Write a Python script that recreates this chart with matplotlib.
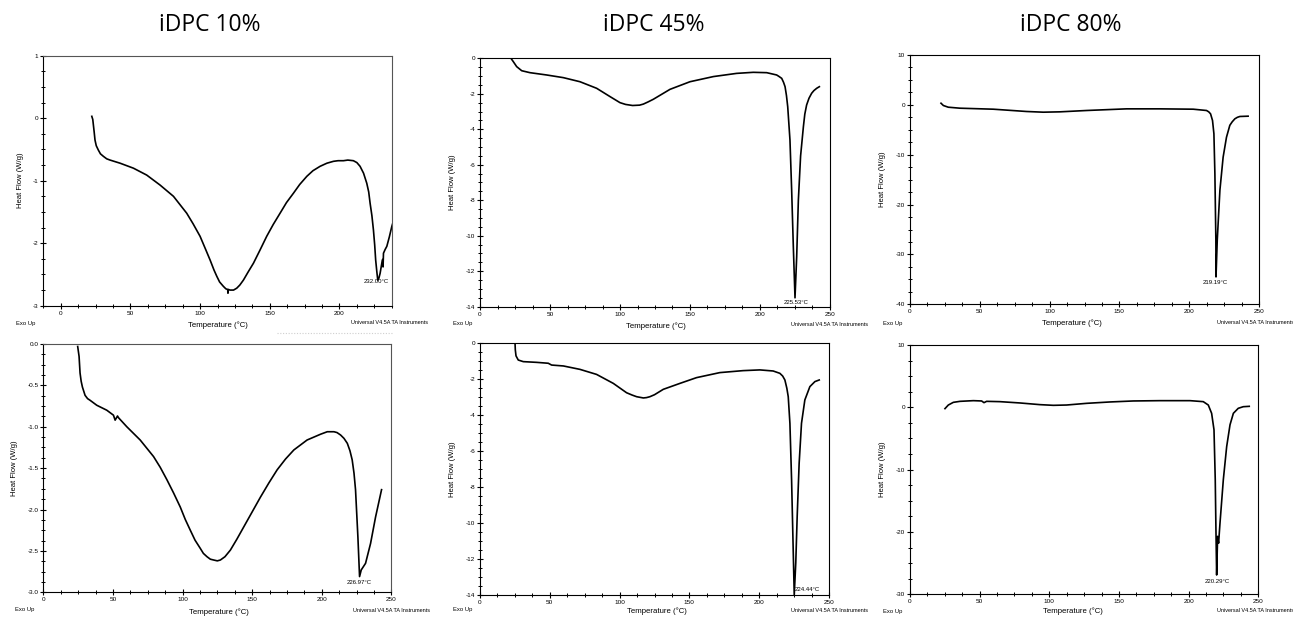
import numpy as np
import matplotlib
matplotlib.use("Agg")
import matplotlib.pyplot as plt
from matplotlib.ticker import MultipleLocator, AutoMinorLocator, FormatStrFormatter
from matplotlib.lines import Line2D

plt.rcParams['font.family'] = ['Liberation Sans', 'DejaVu Sans']
plt.rcParams['axes.unicode_minus'] = False

W, H = 1293, 617

# --- iDPC 10%, run 1 (top left)
t10_a = [22.3, 23.0, 24.0, 24.6, 25.5, 27.0, 28.5, 30.6, 33.0, 35.4,
         42.6, 52.2, 61.7, 71.3, 80.9, 90.4, 95.0, 100.0, 104.0, 107.2,
         110.0, 112.0, 114.0, 116.7, 118.5, 119.8, 120.0, 120.3, 121.5, 124.0,
         126.3, 128.5, 131.1, 134.5, 138.3, 143.0, 147.8, 152.5, 157.4, 162.0,
         167.0, 171.5, 176.6, 181.0, 186.1, 191.0, 195.7, 199.0, 202.9, 206.0,
         210.0, 212.5, 214.8, 217.3, 219.6, 221.0, 222.0, 223.3, 224.4, 225.3,
         226.0, 226.8, 227.5, 228.3, 229.2, 230.4, 231.0, 231.3, 231.6, 232.8,
         234.0, 235.8, 237.6, 240.0]
hf10_a = [0.03, -0.02, -0.22, -0.35, -0.44, -0.51, -0.57, -0.61, -0.65, -0.67,
          -0.72, -0.80, -0.91, -1.07, -1.25, -1.52, -1.69, -1.89, -2.10, -2.27,
          -2.43, -2.53, -2.62, -2.69, -2.73, -2.74, -2.80, -2.74, -2.75, -2.75,
          -2.72, -2.67, -2.59, -2.46, -2.32, -2.11, -1.89, -1.70, -1.52, -1.35,
          -1.20, -1.06, -0.93, -0.84, -0.77, -0.72, -0.69, -0.68, -0.68, -0.67,
          -0.68, -0.71, -0.77, -0.88, -1.04, -1.18, -1.36, -1.56, -1.79, -2.03,
          -2.27, -2.45, -2.59, -2.56, -2.48, -2.32, -2.26, -2.38, -2.16, -2.10,
          -2.05, -1.90, -1.73, -1.55]

# --- iDPC 45%, run 1 (top middle)
t45_a = [22.1, 23.8, 26.2, 29.8, 35.7, 47.6, 59.5, 71.4, 83.3, 92.9,
         100.0, 104.0, 109.0, 114.0, 116.7, 120.0, 123.8, 135.7, 150.0, 166.7,
         183.3, 195.2, 204.8, 211.9, 213.5, 215.5, 216.8, 217.9, 218.9, 219.8,
         221.4, 222.6, 223.8, 225.0, 226.2, 227.4, 229.0, 231.0, 232.0, 233.3,
         235.0, 236.9, 238.5, 240.5, 242.4]
hf45_a = [0.0, -0.19, -0.47, -0.70, -0.81, -0.94, -1.09, -1.32, -1.69, -2.16,
          -2.50, -2.60, -2.66, -2.64, -2.58, -2.46, -2.31, -1.75, -1.32, -1.03,
          -0.85, -0.79, -0.81, -0.94, -1.02, -1.13, -1.35, -1.60, -2.10, -2.73,
          -4.60, -7.40, -10.6, -13.5, -11.2, -8.0, -5.5, -3.85, -3.15, -2.63,
          -2.25, -1.97, -1.82, -1.69, -1.60]

# --- iDPC 80%, run 1 (top right)
t80_a = [22.2, 23.9, 27.4, 35.8, 59.7, 83.5, 95.5, 107.4, 126.5, 155.1,
         179.0, 202.9, 212.4, 214.0, 215.3, 216.7, 217.7, 218.4, 219.1, 219.2,
         220.1, 222.0, 224.3, 226.7, 228.0, 229.1, 230.8, 232.7, 234.5, 236.3,
         242.2]
hf80_a = [0.33, -0.13, -0.47, -0.67, -0.87, -1.33, -1.47, -1.40, -1.13, -0.80,
          -0.80, -0.87, -1.13, -1.40, -1.80, -3.13, -5.8, -13.8, -27.1, -34.5,
          -27.1, -17.1, -10.5, -6.5, -5.2, -4.1, -3.4, -2.8, -2.5, -2.33,
          -2.27]

# --- iDPC 10%, run 2 (bottom left)
t10_b = [24.7, 25.7, 26.4, 27.2, 28.1, 30.0, 31.8, 33.6, 38.4, 45.6,
         50.4, 51.6, 53.3, 54.0, 60.0, 69.6, 79.2, 84.0, 88.8, 93.6,
         98.4, 102.0, 105.6, 109.0, 112.8, 115.0, 117.6, 120.0, 122.4, 125.0,
         127.2, 130.5, 134.4, 139.0, 144.0, 150.0, 156.0, 162.0, 168.0, 174.0,
         180.0, 189.5, 199.2, 204.0, 208.8, 211.0, 213.6, 216.0, 218.4, 220.3,
         221.9, 223.2, 224.3, 226.0, 227.2, 228.4, 231.5, 235.1, 238.7, 243.0]
hf10_b = [-0.03, -0.15, -0.35, -0.45, -0.52, -0.62, -0.66, -0.68, -0.74, -0.80,
          -0.86, -0.92, -0.87, -0.89, -1.00, -1.16, -1.36, -1.49, -1.64, -1.80,
          -1.97, -2.12, -2.25, -2.37, -2.47, -2.53, -2.57, -2.60, -2.61, -2.62,
          -2.61, -2.57, -2.49, -2.36, -2.21, -2.03, -1.85, -1.68, -1.52, -1.39,
          -1.28, -1.16, -1.09, -1.06, -1.06, -1.07, -1.10, -1.14, -1.20, -1.29,
          -1.40, -1.56, -1.76, -2.33, -2.81, -2.73, -2.65, -2.41, -2.09, -1.76]

# --- iDPC 45%, run 2 (bottom middle)
t45_b = [25.1, 25.3, 25.8, 27.4, 31.0, 40.6, 48.9, 51.3, 59.7, 71.6,
         83.5, 95.5, 105.0, 109.0, 112.2, 117.0, 119.3, 121.7, 125.0, 131.3,
         143.2, 155.1, 171.8, 188.5, 200.5, 210.0, 214.8, 216.8, 218.4, 219.8,
         220.8, 222.0, 223.2, 224.3, 225.1, 226.2, 227.2, 228.6, 230.3, 232.7,
         236.3, 239.9, 243.0]
hf45_b = [0.0, -0.37, -0.70, -0.93, -1.02, -1.06, -1.11, -1.21, -1.26, -1.45,
          -1.73, -2.23, -2.75, -2.88, -2.97, -3.04, -3.02, -2.97, -2.86, -2.56,
          -2.23, -1.91, -1.63, -1.52, -1.48, -1.54, -1.67, -1.82, -2.04, -2.50,
          -2.97, -4.45, -7.6, -11.3, -14.0, -12.2, -9.65, -6.7, -4.45, -3.15,
          -2.41, -2.13, -2.04]

# --- iDPC 80%, run 2 (bottom right)
t80_b = [25.1, 27.5, 31.1, 35.9, 45.5, 51.4, 53.1, 55.0, 64.6, 78.9,
         93.3, 102.9, 112.4, 126.8, 143.5, 160.3, 179.4, 201.0, 210.5, 214.1,
         216.5, 218.2, 219.1, 219.6, 220.1, 220.8, 221.5, 222.5, 224.9, 227.3,
         229.7, 232.1, 235.6, 239.2, 243.5]
hf80_b = [-0.21, 0.37, 0.80, 0.96, 1.07, 1.02, 0.75, 0.96, 0.91, 0.70,
          0.43, 0.32, 0.37, 0.64, 0.86, 1.02, 1.07, 1.07, 0.91, 0.37,
          -0.96, -3.6, -11.6, -19.7, -26.9, -20.7, -21.8, -18.6, -11.6, -6.3,
          -2.8, -0.96, -0.16, 0.10, 0.16]

titles = ["iDPC 10%", "iDPC 45%", "iDPC 80%"]
peak_labels = ["232.00°C", "225.53°C", "219.19°C", "226.97°C", "224.44°C", "220.29°C"]

fig = plt.figure(figsize=(W / 100, H / 100), dpi=100)


def px(x, y):
    return x / W, 1 - y / H


def panel(box, t, hf, xlim, ylim, ystep, yfmt, peak, peak_xy, peak_ha, edge):
    l, r, top, b = box
    ax = fig.add_axes([l / W, 1 - b / H, (r - l) / W, (b - top) / H])
    ax.plot(t, hf, color="black", lw=1.2, solid_joinstyle="round")
    ax.set_xlim(*xlim)
    ax.set_ylim(*ylim)
    ax.xaxis.set_major_locator(MultipleLocator(50))
    ax.yaxis.set_major_locator(MultipleLocator(ystep))
    ax.xaxis.set_minor_locator(AutoMinorLocator(4))
    ax.yaxis.set_minor_locator(AutoMinorLocator(4))
    ax.yaxis.set_major_formatter(FormatStrFormatter(yfmt))
    ax.tick_params(which="major", direction="inout", length=4, width=0.8,
                   labelsize=4.6, pad=1.5, top=False, right=False)
    ax.tick_params(which="minor", direction="inout", length=2.2, width=0.7,
                   top=False, right=False)
    for s in ax.spines.values():
        s.set_linewidth(0.8)
    for s in ("top", "right"):
        ax.spines[s].set_color(edge)
    ax.text(peak_xy[0], peak_xy[1], peak, fontsize=4.3, ha=peak_ha, va="center")
    return ax


ax1 = panel((43.3, 391.7, 55.7, 305.7), t10_a, hf10_a, (-12.5, 237.5), (-3, 1), 1, "%d",
            peak_labels[0], (226.5, -2.62), "center", "#555555")
ax2 = panel((480, 830, 58.3, 306.7), t45_a, hf45_a, (0, 250), (-14, 0), 2, "%d",
            peak_labels[1], (225.5, -13.78), "center", "black")
ax3 = panel((910, 1259, 55, 304.3), t80_a, hf80_a, (0, 250), (-40, 10), 10, "%d",
            peak_labels[2], (218.9, -35.7), "center", "black")
ax4 = panel((43.3, 391.3, 344, 592.3), t10_b, hf10_b, (0, 250), (-3, 0), 0.5, "%.1f",
            peak_labels[3], (227.2, -2.88), "center", "#555555")
ax5 = panel((480, 829, 343.3, 595), t45_b, hf45_b, (0, 250), (-14, 0), 2, "%d",
            peak_labels[4], (225.5, -13.7), "left", "black")
ax6 = panel((910, 1258.3, 345, 594.3), t80_b, hf80_b, (0, 250), (-30, 10), 10, "%d",
            peak_labels[5], (220.6, -28.0), "center", "black")

# column titles
for xc, title in zip([210, 654, 1071], titles):
    fig.text(*px(xc, 25), title, fontsize=16.5, ha="center", va="center",
             family=["Open Sans", "DejaVu Sans"])

# axis labels and instrument footer text
ylab_x = [20, 452, 882, 15, 452, 882]
xlab = [(218, 325), (656, 326), (1072, 323), (219, 612), (657, 611), (1073, 611)]
exo = [(26, 323), (463, 324), (893, 323), (25, 610), (463, 610), (893, 611)]
univ = [(428, 323), (868, 325), (1217, 323), (430, 610), (868, 611), (1217, 611)]
for i, ax in enumerate([ax1, ax2, ax3, ax4, ax5, ax6]):
    pos = ax.get_position()
    fig.text(ylab_x[i] / W, pos.y0 + pos.height / 2, "Heat Flow (W/g)", rotation=90,
             fontsize=5.5, ha="center", va="center")
    fig.text(*px(*xlab[i]), "Temperature (°C)", fontsize=5.6, ha="center", va="center")
    fig.text(*px(*exo[i]), "Exo Up", fontsize=4.2, ha="center", va="center")
    ha = "left" if univ[i][0] > 1200 else "right"
    fig.text(*px(*univ[i]), "Universal V4.5A TA Instruments", fontsize=4.0,
             ha=ha, va="center")

# faint scan residue under the first panel
fig.add_artist(Line2D([277 / W, 393 / W], [1 - 333 / H, 1 - 333 / H],
                      color="#cfcfcf", lw=0.8, ls=(0, (1, 1.5))))

fig.savefig("out.png", dpi=100)
